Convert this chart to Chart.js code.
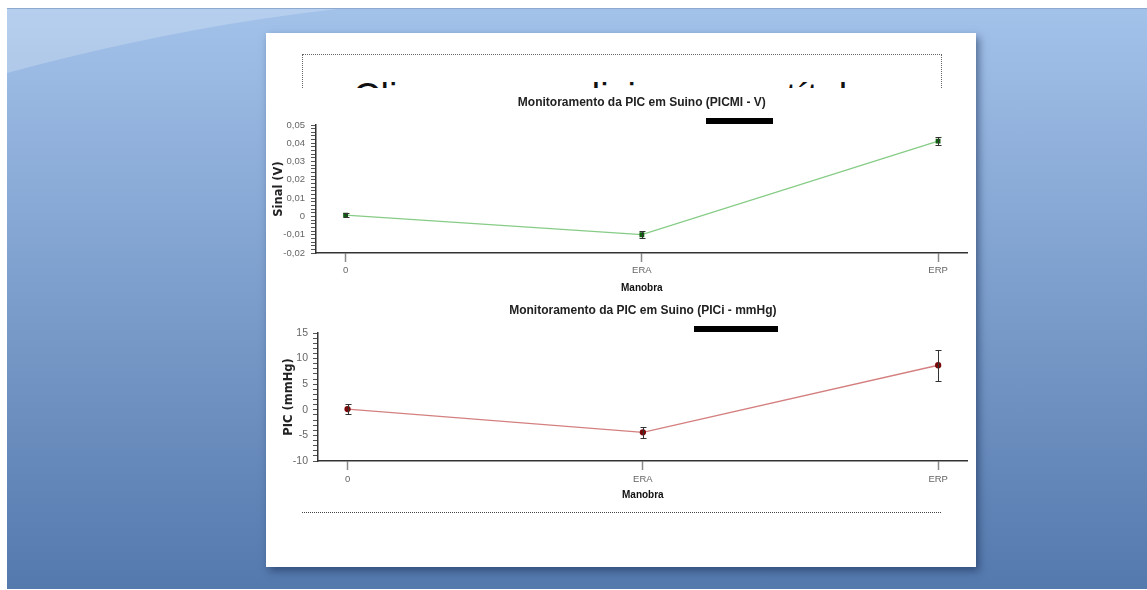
<!DOCTYPE html>
<html>
<head>
<meta charset="utf-8">
<script src="https://cdn.jsdelivr.net/npm/chart.js@4.4.1/dist/chart.umd.min.js"></script>
<style>
  html, body { margin: 0; padding: 0; width: 1147px; height: 590px; overflow: hidden; background: #fff; }
  #slide { position: absolute; left: 7px; top: 8px; width: 1140px; height: 580px;
    background: linear-gradient(#a3c2ea, #5479ad); border-top: 1px solid #8ea9cf; }
  #slide svg { position: absolute; left: 0; top: 0; }
  #papel { position: absolute; left: 266px; top: 33px; width: 710px; height: 534px; background: #fff;
    box-shadow: 3px 4px 8px rgba(20, 40, 80, 0.55); }
  #caixa { position: absolute; left: 302px; top: 54px; width: 638px; height: 80px; border: 1px dotted #666; }
  #tituloSlide { position: absolute; left: 353px; top: 78px; font: 38px/38px 'Liberation Sans', sans-serif;
    color: #111; white-space: nowrap; }
  #linhaBaixo { position: absolute; left: 302px; top: 512px; width: 639px; border-top: 1px dotted #444; }
  canvas { position: absolute; }
  #g1 { left: 268px; top: 88px; background: #fff; }
  #g2 { left: 268px; top: 302px; }
  .barra { position: absolute; background: #000; }
</style>
</head>
<body>
<div id="slide">
  <svg width="1140" height="580"><path d="M0,0 L330,0 Q170,18 0,64 Z" fill="rgba(255,255,255,0.22)"/></svg>
</div>
<div id="papel"></div>
<div id="caixa"></div>
<div id="tituloSlide">Clique para adicionar um título</div>
<div id="linhaBaixo"></div>
<canvas id="g1" width="705" height="214"></canvas>
<canvas id="g2" width="705" height="204"></canvas>
<div class="barra" style="left:706px;top:118px;width:67px;height:6px"></div>
<div class="barra" style="left:694px;top:326px;width:84px;height:6px"></div>

<script>
// dados
const categorias = ['0', 'ERA', 'ERP'];
const sinalV = [0.0007, -0.0100, 0.0412];
const sinalErro = [0.0012, 0.0020, 0.0020];
const picMmHg = [0.15, -4.4, 8.7];
const picErro = [1.0, 1.1, 3.0];
const ticksSinal = [0.05, 0.04, 0.03, 0.02, 0.01, 0, -0.01, -0.02];
const ticksPic = [15, 10, 5, 0, -5, -10];
const passoMenorSinal = 0.002;
const passoMenorPic = 1;

const FONTE = "'Liberation Sans', Arial, sans-serif";

function virgula(v) {
  return v === 0 ? '0' : String(v).replace('.', ',');
}

// ticks menores + rotulos so nos maiores
function ticksY(principais, passo) {
  const min = Math.min(...principais), max = Math.max(...principais);
  const n = Math.round((max - min) / passo);
  return {
    afterBuildTicks: s => {
      const t = [];
      for (let i = 0; i <= n; i++) t.push({ value: min + i * passo });
      s.ticks = t;
    },
    callback: v => {
      const m = principais.find(p => Math.abs(p - v) < passo / 10);
      return m === undefined ? '' : virgula(m);
    }
  };
}

const barrasErro = {
  id: 'barrasErro',
  afterDatasetsDraw(chart) {
    const { ctx, scales: { x, y } } = chart;
    chart.data.datasets.forEach(ds => {
      if (!ds.erros) return;
      ctx.save();
      ctx.strokeStyle = '#333';
      ctx.lineWidth = 1;
      ds.data.forEach((p, i) => {
        const px = Math.round(x.getPixelForValue(p.x)) + 0.5;
        const yt = Math.round(y.getPixelForValue(p.y + ds.erros[i])) + 0.5;
        const yb = Math.round(y.getPixelForValue(p.y - ds.erros[i])) + 0.5;
        ctx.beginPath();
        ctx.moveTo(px, yt); ctx.lineTo(px, yb);
        ctx.moveTo(px - 3, yt); ctx.lineTo(px + 3, yt);
        ctx.moveTo(px - 3, yb); ctx.lineTo(px + 3, yb);
        ctx.stroke();
      });
      ctx.restore();
    });
  }
};

const tituloCentral = {
  id: 'tituloCentral',
  afterDraw(chart, args, opts) {
    const { ctx, chartArea: a } = chart;
    ctx.save();
    ctx.font = 'bold 12px ' + FONTE;
    ctx.fillStyle = '#222';
    ctx.textAlign = 'center';
    ctx.textBaseline = 'middle';
    ctx.fillText(opts.texto, (a.left + a.right) / 2, opts.y);
    ctx.restore();
  }
};

function montaGrafico(id, cfg) {
  const yt = ticksY(cfg.principais, cfg.passo);
  return new Chart(document.getElementById(id), {
    type: 'line',
    data: {
      datasets: [{
        data: categorias.map((c, i) => ({ x: i, y: cfg.valores[i] })),
        erros: cfg.erros,
        borderColor: cfg.corLinha,
        borderWidth: 1.3,
        pointStyle: cfg.ponto,
        pointRadius: 2.5,
        pointBackgroundColor: cfg.corPonto,
        pointBorderColor: cfg.corPonto,
        tension: 0
      }]
    },
    options: {
      responsive: false,
      animation: false,
      layout: { padding: { top: cfg.topo, right: cfg.direita, left: 0, bottom: 0 } },
      plugins: {
        legend: { display: false },
        tooltip: { enabled: false },
        tituloCentral: { texto: cfg.titulo, y: cfg.yTitulo }
      },
      scales: {
        x: {
          type: 'linear', min: -0.1, max: 2.1,
          afterBuildTicks: s => { s.ticks = categorias.map((c, i) => ({ value: i })); },
          afterFit: s => { s.height = cfg.alturaX; },
          ticks: { autoSkip: false, callback: v => categorias[v], color: '#666',
            font: { family: FONTE, size: 9.5 }, padding: cfg.padX },
          grid: { drawOnChartArea: false, tickLength: 9, tickColor: '#8a8a8a', tickWidth: 1.5 },
          border: { color: '#333', width: 1.5 },
          title: { display: true, text: 'Manobra', color: '#111',
            font: { family: FONTE, size: 10, weight: 'bold' }, padding: { top: 0, bottom: cfg.padTituloX } }
        },
        y: {
          min: Math.min(...cfg.principais), max: Math.max(...cfg.principais),
          afterBuildTicks: yt.afterBuildTicks,
          afterFit: s => { s.width = cfg.larguraY; },
          ticks: { autoSkip: false, callback: yt.callback, color: '#666',
            font: { family: FONTE, size: cfg.fonteY }, padding: cfg.padY },
          grid: { drawOnChartArea: false, tickLength: 5, tickColor: '#555', tickWidth: 1 },
          border: { color: '#333', width: 1.5 },
          title: { display: true, text: cfg.tituloY, color: '#222',
            font: { family: "'DejaVu Sans', sans-serif", size: 11.5, weight: 'bold' },
            padding: { top: cfg.padTituloY, bottom: 0 } }
        }
      }
    },
    plugins: [barrasErro, tituloCentral]
  });
}

montaGrafico('g1', {
  valores: sinalV, erros: sinalErro, principais: ticksSinal, passo: passoMenorSinal,
  corLinha: '#86cc86', corPonto: '#0d5e0d', ponto: 'rect',
  titulo: 'Monitoramento da PIC em Suino (PICMI - V)', yTitulo: 15,
  tituloY: 'Sinal (V)', topo: 37, direita: 3, alturaX: 49, larguraY: 48,
  padX: 3, padTituloX: 8, padY: 6, padTituloY: 4, fonteY: 9.5
});

montaGrafico('g2', {
  valores: picMmHg, erros: picErro, principais: ticksPic, passo: passoMenorPic,
  corLinha: '#d48080', corPonto: '#7a0a0a', ponto: 'circle',
  titulo: 'Monitoramento da PIC em Suino (PICi - mmHg)', yTitulo: 9,
  tituloY: 'PIC (mmHg)', topo: 31, direita: 1, alturaX: 45, larguraY: 50,
  padX: 4, padTituloX: 5, padY: 5, padTituloY: 14, fonteY: 10.5
});
</script>
</body>
</html>
